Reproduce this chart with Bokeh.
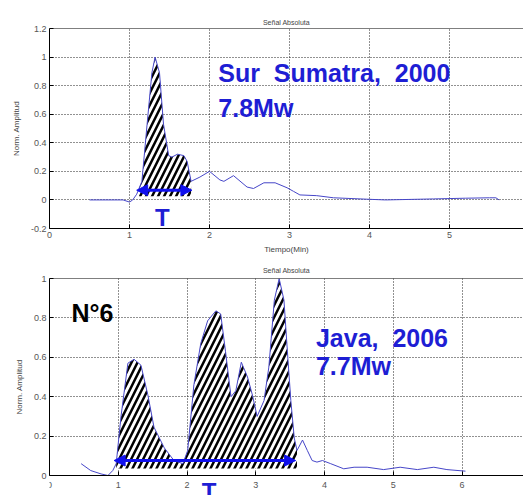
import numpy as np
from bokeh.plotting import figure
from bokeh.layouts import column
from bokeh.models import Label, Span, Arrow, NormalHead, FixedTicker, Range1d, BoxAnnotation
from bokeh.embed import file_html
from bokeh.resources import INLINE

# ---------------- data ----------------
# Top panel: Sur Sumatra 2000
t1 = [0.5, 0.92, 1.0, 1.04, 1.09, 1.155, 1.22, 1.28, 1.32, 1.375, 1.425, 1.49, 1.53,
      1.60, 1.68, 1.72, 1.77, 1.88, 2.0, 2.13, 2.18, 2.3, 2.47, 2.55, 2.68, 2.82, 2.97,
      3.05, 3.13, 3.34, 3.55, 3.97, 4.2, 4.8, 5.2, 5.5, 5.58, 5.62]
a1 = [0.0, 0.0, -0.015, 0.0, 0.04, 0.13, 0.53, 0.89, 1.0, 0.89, 0.53, 0.31, 0.30,
      0.32, 0.31, 0.27, 0.13, 0.16, 0.20, 0.14, 0.13, 0.17, 0.09, 0.08, 0.12, 0.12, 0.085,
      0.06, 0.035, 0.03, 0.015, 0.005, 0.0, 0.007, 0.012, 0.015, 0.015, 0.0]
hatch1 = [1.12, 1.77]          # duration window T (minutes)
base1 = 0.025
arrow1 = [1.09, 1.78]
arrow1_y = 0.068

# Bottom panel: Java 2006
t2 = [0.46, 0.60, 0.75, 0.85, 0.92, 0.97, 1.04, 1.14, 1.23, 1.33, 1.43, 1.52, 1.67,
      1.81, 1.94, 2.01, 2.10, 2.20, 2.30, 2.42, 2.49, 2.56, 2.64, 2.71, 2.79, 2.88,
      2.95, 3.02, 3.12, 3.19, 3.27, 3.34, 3.41, 3.46, 3.51, 3.56, 3.60, 3.68, 3.75,
      3.82, 3.89, 3.97, 4.09, 4.28, 4.43, 4.62, 4.86, 5.10, 5.35, 5.59, 5.78, 6.05]
a2 = [0.06, 0.025, 0.008, 0.0, 0.025, 0.06, 0.30, 0.57, 0.59, 0.56, 0.41, 0.245, 0.14,
      0.076, 0.06, 0.127, 0.46, 0.67, 0.785, 0.836, 0.82, 0.63, 0.40, 0.43, 0.575, 0.50,
      0.41, 0.30, 0.38, 0.55, 0.89, 1.0, 0.89, 0.63, 0.38, 0.19, 0.127, 0.18, 0.127,
      0.076, 0.068, 0.076, 0.06, 0.034, 0.042, 0.042, 0.03, 0.042, 0.03, 0.042, 0.03, 0.022]
hatch2 = [0.97, 3.60]
base2 = 0.035
arrow2 = [0.94, 3.58]
arrow2_y = 0.076

# ticks
x_ticks1 = [0, 1, 2, 3, 4, 5]
x_labels1 = ["0", "1", "2", "3", "4", "5"]
y_ticks1 = [-0.2, 0.0, 0.2, 0.4, 0.6, 0.8, 1.0, 1.2]
y_labels1 = ["-0.2", "0", "0.2", "0.4", "0.6", "0.8", "1", "1.2"]
x_ticks2 = [0, 1, 2, 3, 4, 5, 6]
x_labels2 = ["0", "1", "2", "3", "4", "5", "6"]
y_ticks2 = [0.0, 0.2, 0.4, 0.6, 0.8, 1.0]
y_labels2 = ["0", "0.2", "0.4", "0.6", "0.8", "1"]

TITLE = "Señal Absoluta"
XLABEL = "Tiempo(Min)"
YLABEL = "Norm. Amplitud"
NB = "\u00a0"

BLUE_TXT = "#1e1ed4"
BLUE_ARROW = "#1010ee"
LINE_COL = "#4646c8"
FONT = "Liberation Sans"
GREY = "#444444"


def make_fig(width, height, xr, yr, borders, xt, xl, yt, yl, title_standoff):
    p = figure(width=width, height=height, x_range=Range1d(*xr), y_range=Range1d(*yr),
               output_backend="svg", toolbar_location=None, title=TITLE,
               min_border_left=borders[0], min_border_right=0,
               min_border_top=borders[1], min_border_bottom=borders[2])
    p.title.align = "center"
    p.title.text_font = FONT
    p.title.text_font_size = "7px"
    p.title.text_font_style = "normal"
    p.title.text_color = GREY
    p.title.standoff = title_standoff
    p.outline_line_color = None
    p.background_fill_color = "white"
    p.border_fill_color = "white"
    for ax, ticks, labels in ((p.xaxis, xt, xl), (p.yaxis, yt, yl)):
        ax.ticker = FixedTicker(ticks=ticks)
        ax.major_label_overrides = {t: s for t, s in zip(ticks, labels)}
        ax.major_tick_in = 4
        ax.major_tick_out = 0
        ax.minor_tick_line_color = None
        ax.axis_line_color = "black"
        ax.major_tick_line_color = "black"
        ax.major_label_text_font = FONT
        ax.major_label_text_font_size = "9px"
        ax.major_label_text_color = "#555555"
        ax.major_label_standoff = 3
        ax.axis_label_text_font = FONT
        ax.axis_label_text_font_size = "8px"
        ax.axis_label_text_font_style = "normal"
        ax.axis_label_text_color = GREY
    p.yaxis.axis_label = YLABEL
    p.yaxis.axis_label_standoff = 7
    for g in (p.xgrid, p.ygrid):
        g.grid_line_color = "#222222"
        g.grid_line_dash = "1 2"
        g.grid_line_width = 1
    p.add_layout(Span(location=yr[1], dimension="width", line_color="black", line_width=1))
    return p


def hatch_poly(t, a, win, base):
    x0, x1 = win
    inside = [(ti, ai) for ti, ai in zip(t, a) if x0 < ti < x1]
    xs = [x0] + [q[0] for q in inside] + [x1, x1, x0]
    ys = [float(np.interp(x0, t, a))] + [q[1] for q in inside] + \
         [float(np.interp(x1, t, a)), base, base]
    return xs, ys


def decorate(p, t, a, win, base, arr, arr_y):
    xs, ys = hatch_poly(t, a, win, base)
    p.patch(xs, ys, fill_color="white", fill_alpha=1.0, hatch_pattern="/",
            hatch_color="black", hatch_weight=2.5, hatch_scale=12, line_color=None)
    p.line(t, a, line_color=LINE_COL, line_width=1)
    head = dict(size=11, fill_color=BLUE_ARROW, line_color=BLUE_ARROW)
    p.add_layout(Arrow(start=NormalHead(**head), end=NormalHead(**head),
                       x_start=arr[0], y_start=arr_y, x_end=arr[1], y_end=arr_y,
                       line_color=BLUE_ARROW, line_width=3))


def lab(p, x, y, text, size, color=GREY, bold=False, align="left"):
    p.add_layout(Label(x=x, y=y, text=text, text_font=FONT, text_font_size=size,
                       text_color=color, text_font_style="bold" if bold else "normal",
                       text_align=align, text_baseline="middle"))


# ---------------- top ----------------
p1 = make_fig(523, 257, (0, 474 / 80.0), (-0.2, 1.2), (49, 28, 29),
              x_ticks1, x_labels1, y_ticks1, y_labels1, 6)
p1.xaxis.axis_label = XLABEL
p1.xaxis.axis_label_standoff = 4
decorate(p1, t1, a1, hatch1, base1, arrow1, arrow1_y)
lab(p1, 2.11, 0.892, "Sur" + NB + " Sumatra," + NB + " 2000", "25px", BLUE_TXT, bold=True)
lab(p1, 2.11, 0.647, "7.8Mw", "25px", BLUE_TXT, bold=True)
lab(p1, 1.41, -0.125, "T", "24px", BLUE_TXT, bold=True, align="center")

# ---------------- bottom ----------------
# frame runs to the bottom of the window; the x axis sits at y = 0
y_lo2 = 1.0 - 217 / 197.0
p2 = make_fig(523, 238, (0, 475 / 68.9), (y_lo2, 1.0), (48, 21, 0),
              x_ticks2, x_labels2, y_ticks2, y_labels2, 9)
p2.xaxis.fixed_location = 0
p2.xaxis.major_label_standoff = 6
p2.yaxis.bounds = (0, 1)
p2.add_layout(BoxAnnotation(top=0, fill_color="white", fill_alpha=1.0,
                            line_color=None, level="underlay"))
decorate(p2, t2, a2, hatch2, base2, arrow2, arrow2_y)
lab(p2, 0.32, 0.827, "N°6", "25px", "black", bold=True)
lab(p2, 3.875, 0.70, "Java," + NB + " 2006", "25px", BLUE_TXT, bold=True)
lab(p2, 3.875, 0.558, "7.7Mw", "25px", BLUE_TXT, bold=True)
lab(p2, 2.32, -0.081, "T", "24px", BLUE_TXT, bold=True, align="center")
lab(p2, 3.5, -0.122, XLABEL, "8px", GREY, align="center")

layout = column(p1, p2, spacing=0)
open("out.html", "w").write(file_html(layout, INLINE))
